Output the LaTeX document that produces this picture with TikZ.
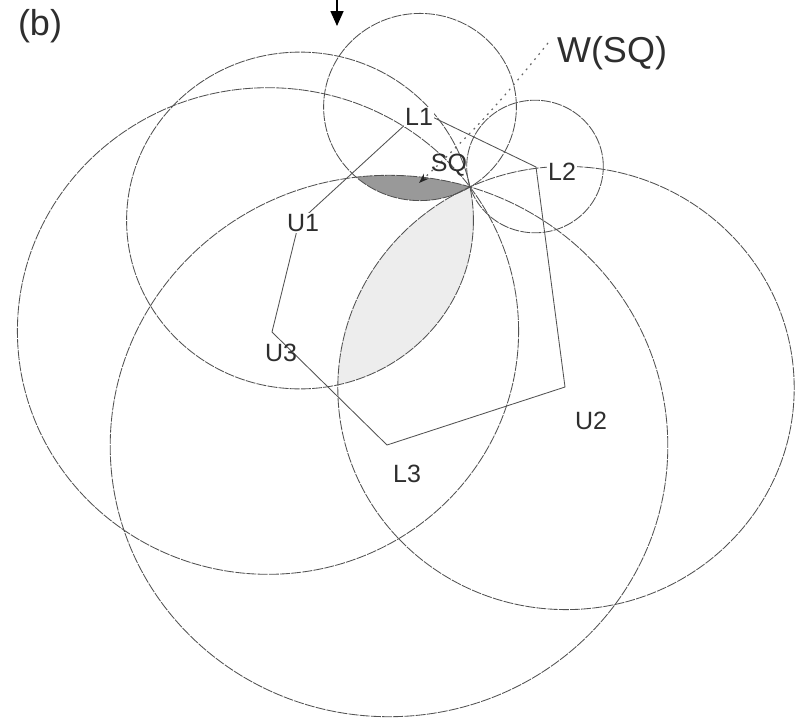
\documentclass[tikz,border=0pt]{standalone}
\usepackage{fontspec}
\setmainfont{Liberation Sans}
\usetikzlibrary{arrows.meta}
\begin{document}
\begin{tikzpicture}[x=1pt,y=-1pt,
  circ/.style={draw=black!68, line width=0.85pt, dash pattern=on 10pt off 1.2pt},
  poly/.style={draw=black!68, line width=0.85pt, line join=miter},
  lbl/.style={text=black!82, font=\fontsize{25}{25}\selectfont, inner sep=1pt},
  lblw/.style={lbl, fill=white},
  big/.style={text=black!82, font=\fontsize{36}{36}\selectfont, inner sep=0pt},
  lightfill/.style={fill=black!7},
  darkfill/.style={fill=black!40}]
\useasboundingbox (0,0) rectangle (799,724);
% shaded regions
\begin{scope}
  \clip (300,220.5) ellipse [x radius=173.4pt, y radius=168.4pt];
  \path[lightfill] (566,388) ellipse [x radius=228.2pt, y radius=221.6pt];
\end{scope}
\begin{scope}
  \clip (420,107) ellipse [x radius=96.4pt, y radius=93.6pt];
  \path[darkfill] (389,446) ellipse [x radius=278.8pt, y radius=270.7pt];
\end{scope}
% circles (all through SQ)
\draw[circ] (420,107) ellipse [x radius=96.4pt, y radius=93.6pt];    % L1
\draw[circ] (535,166.5) ellipse [x radius=68.3pt, y radius=66.3pt];  % L2
\draw[circ] (389,446) ellipse [x radius=278.8pt, y radius=270.7pt];  % L3
\draw[circ] (300,220.5) ellipse [x radius=173.4pt, y radius=168.4pt];% U1
\draw[circ] (566,388) ellipse [x radius=228.2pt, y radius=221.6pt];  % U2
\draw[circ] (268,331) ellipse [x radius=250.6pt, y radius=243.3pt];  % U3
% polygon vertices
\coordinate (U1) at (299,222);
\coordinate (L1) at (420,111);
\coordinate (L2) at (536,167);
\coordinate (U2) at (565,387);
\coordinate (L3) at (387,445);
\coordinate (U3) at (272,332);
\draw[poly] (U1) -- (L1) -- (L2) -- (U2) -- (L3) -- (U3) -- cycle;
% dotted pointer to SQ
\coordinate (wstart) at (548,43);
\coordinate (wend) at (419,183);
\draw[draw=black!60, line width=1.2pt, dash pattern=on 1.8pt off 4.8pt,
  -{Stealth[length=10pt,width=7pt,black!85]}] (wstart) to[bend left=4] (wend);
% top arrow
\coordinate (atop) at (337,0);
\coordinate (abot) at (337,26);
\draw[black, line width=1.6pt, -{Triangle[length=15pt,width=13pt]}] (atop) -- (abot);
% labels
\node[lblw] (tL1) at (419,117) {L1};
\node[lblw] (tL2) at (562,172) {L2};
\node[lbl] (tL3) at (407,474) {L3};
\node[lblw] (tU1) at (303,223) {U1};
\node[lbl] (tU2) at (591,421) {U2};
\node[lbl] (tU3) at (281,353) {U3};
\node[lbl] (tSQ) at (449,165) {SQ};
\node[big] (tW) at (612,53) {W(SQ)};
\node[big] (tb) at (40,26) {(b)};
\end{tikzpicture}
\end{document}
